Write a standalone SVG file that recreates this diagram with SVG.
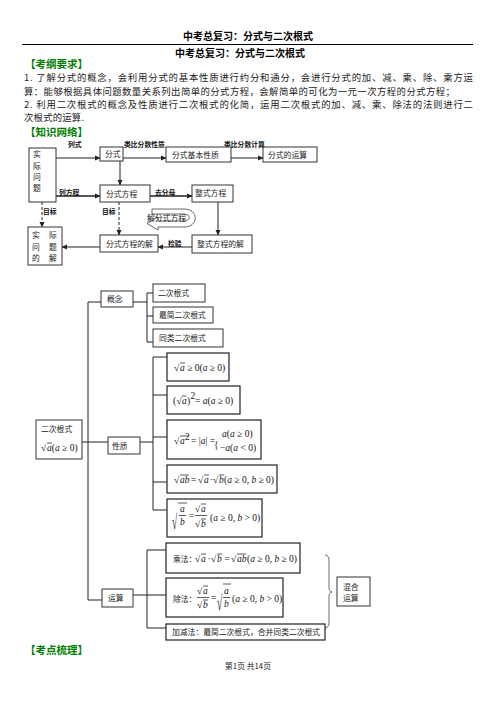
<svg xmlns="http://www.w3.org/2000/svg" width="496" height="702" viewBox="0 0 496 702">
<style>
.h{font-family:"Noto Sans CJK SC",sans-serif;font-weight:bold;font-size:10px;fill:#000}
.g{font-family:"Noto Sans CJK SC",sans-serif;font-weight:bold;font-size:10.5px;fill:#008000}
.p{font-family:"Noto Sans CJK SC",sans-serif;font-size:9.4px;fill:#222}
.t{font-family:"Noto Sans CJK SC",sans-serif;font-size:7.8px;fill:#222}
.l{font-family:"Noto Sans CJK SC",sans-serif;font-weight:bold;font-size:6.8px;fill:#111}
.m{font-family:"Liberation Serif",serif;font-size:9.5px;fill:#111}
.i{font-style:italic}
.bx{fill:#fff;stroke:#333;stroke-width:1}
.fb{fill:#fff;stroke:#222;stroke-width:1.2}
.ln{stroke:#222;stroke-width:1;fill:none}
.ar{stroke:#222;stroke-width:1;fill:none;marker-end:url(#ah)}
.tk{stroke:#222;stroke-width:1.5;fill:none;marker-end:url(#ah)}
.ds{stroke:#222;stroke-width:1;fill:none;stroke-dasharray:3,2;marker-end:url(#ah)}
.ov{stroke:#111;stroke-width:0.7}
</style>
<defs>
<marker id="ah" markerWidth="6" markerHeight="6" refX="5" refY="3" orient="auto" markerUnits="userSpaceOnUse"><path d="M0,0.5 L5.5,3 L0,5.5 z" fill="#222"/></marker>
</defs>
<rect width="496" height="702" fill="#fff"/>
<g id="header">
<text class="h" x="248" y="40" text-anchor="middle">中考总复习：分式与二次根式</text>
<line x1="22" y1="44.5" x2="473" y2="44.5" stroke="#000" stroke-width="1"/>
<text class="h" x="240" y="57" text-anchor="middle">中考总复习：分式与二次根式</text>
<text class="g" x="25" y="68">【考纲要求】</text>
<text class="p" x="24" y="81" textLength="449" lengthAdjust="spacing">1.  了解分式的概念，会利用分式的基本性质进行约分和通分，会进行分式的加、减、乘、除、乘方运</text>
<text class="p" x="24" y="94.5" textLength="431" lengthAdjust="spacing">算：能够根据具体问题数量关系列出简单的分式方程，会解简单的可化为一元一次方程的分式方程；</text>
<text class="p" x="24" y="108" textLength="449" lengthAdjust="spacing">2.  利用二次根式的概念及性质进行二次根式的化简，运用二次根式的加、减、乘、除法的法则进行二</text>
<text class="p" x="24" y="121" textLength="60" lengthAdjust="spacing">次根式的运算.</text>
<text class="g" x="25" y="135.5" font-size="10">【知识网络】</text>
</g>
<g id="connectors1">
<line class="ar" x1="56" y1="158" x2="100" y2="158"/>
<line class="ar" x1="123" y1="158" x2="166" y2="158"/>
<line class="ar" x1="231" y1="158" x2="263" y2="158"/>
<line class="ar" x1="120" y1="161" x2="120" y2="185"/>
<line class="tk" x1="56" y1="196" x2="100" y2="196"/>
<line class="tk" x1="150" y1="196" x2="192" y2="196"/>
<line class="ar" x1="218" y1="202" x2="218" y2="235"/>
<line class="ar" x1="192" y1="247" x2="158" y2="247"/>
<line class="ar" x1="100" y1="247" x2="62" y2="247"/>
<line class="ds" x1="42" y1="202" x2="42" y2="227"/>
<line class="ds" x1="119" y1="202" x2="119" y2="235"/>
<text class="l" x="68" y="146.5">列式</text>
<text class="l" x="124" y="146.5">类比分数性质</text>
<text class="l" x="224" y="146.5">类比分数计算</text>
<text class="l" x="59" y="195">列方程</text>
<text class="l" x="155" y="195">去分母</text>
<text class="l" x="43" y="214">目标</text>
<text class="l" x="102" y="214">目标</text>
<text class="l" x="168" y="246">检验</text>
</g>
<g id="n-sjwt"><rect class="bx" x="29" y="148" width="27" height="54"/>
<text class="t" x="33" y="157">实</text><text class="t" x="33" y="169">际</text><text class="t" x="33" y="180">问</text><text class="t" x="33" y="191">题</text></g>
<g id="n-fs"><rect class="bx" x="100" y="147" width="23" height="14"/><text class="t" x="105" y="157">分式</text></g>
<g id="n-fsjbxz"><rect class="bx" x="166" y="147" width="65" height="15"/><text class="t" x="172" y="158">分式基本性质</text></g>
<g id="n-fsdys"><rect class="bx" x="263" y="147" width="54" height="15"/><text class="t" x="268" y="158">分式的运算</text></g>
<g id="n-fsfc"><rect class="bx" x="100" y="185" width="50" height="17"/><text class="t" x="106" y="197">分式方程</text></g>
<g id="n-zsfc"><rect class="bx" x="192" y="185" width="41" height="17"/><text class="t" x="195" y="196">整式方程</text></g>
<g id="n-jfsfc">
<path d="M152,209 L184,209 C199,209 199,227 184,227 L158,227 L158,230 L147,223.5 L158,217 L158,221 L184,221 C191,221 191,214 184,214 L152,214 Z" fill="none" stroke="#444" stroke-width="0.8"/>
<text class="t" x="147" y="221">解分式方程</text></g>
<g id="n-sjwtdj"><rect class="bx" x="28" y="227" width="34" height="38"/>
<text class="t" x="32" y="238">实</text><text class="t" x="49" y="238">际</text>
<text class="t" x="32" y="250">问</text><text class="t" x="49" y="250">题</text>
<text class="t" x="32" y="261">的</text><text class="t" x="49" y="261">解</text></g>
<g id="n-fsfcdj"><rect class="bx" x="100" y="235" width="58" height="17"/><text class="t" x="106" y="247">分式方程的解</text></g>
<g id="n-zsfcdj"><rect class="bx" x="192" y="235" width="60" height="18"/><text class="t" x="197" y="247">整式方程的解</text></g>
<g id="connectors2">
<polyline class="ln" points="101,302 88,302 88,600 102,600"/>
<line class="ln" x1="82" y1="442" x2="108" y2="442"/>
<line class="ln" x1="133" y1="302" x2="147" y2="302"/>
<polyline class="ln" points="153,293 147,293 147,342 153,342"/>
<line class="ln" x1="147" y1="316" x2="153" y2="316"/>
<line class="ln" x1="140" y1="442" x2="153" y2="442"/>
<polyline class="ln" points="167,357 153,357 153,510 167,510"/>
<line class="ln" x1="153" y1="395" x2="167" y2="395"/>
<line class="ln" x1="153" y1="437" x2="167" y2="437"/>
<line class="ln" x1="153" y1="482" x2="167" y2="482"/>
<line class="ln" x1="133" y1="595" x2="147" y2="595"/>
<polyline class="ln" points="166,550 147,550 147,628 166,628"/>
<line class="ln" x1="147" y1="595" x2="166" y2="595"/>
<path d="M325,555 Q329,555 329,561 L329,587 Q329,592 332,592 Q329,592 329,597 L329,622 Q329,628 325,628" fill="none" stroke="#444" stroke-width="0.8"/>
</g>
<g id="n-ecgs"><rect class="bx" x="36" y="420" width="46" height="39"/>
<text class="t" x="41" y="432">二次根式</text>
<text class="m" x="41" y="451">√</text><line class="ov" x1="47" y1="443" x2="52" y2="443"/>
<text class="m" x="47" y="451"><tspan class="i">a</tspan>(<tspan class="i">a</tspan> ≥ 0)</text></g>
<g id="n-gn"><rect class="bx" x="101" y="291" width="32" height="16"/><text class="t" x="107" y="302">概念</text></g>
<g id="n-xz"><rect class="bx" x="108" y="437" width="32" height="17"/><text class="t" x="112" y="449">性质</text></g>
<g id="n-ys"><rect class="bx" x="102" y="589" width="31" height="18"/><text class="t" x="108" y="601">运算</text></g>
<g id="n-c1"><rect class="bx" x="153" y="284" width="52" height="18"/><text class="t" x="158" y="296">二次根式</text></g>
<g id="n-c2"><rect class="bx" x="153" y="307" width="60" height="16"/><text class="t" x="159" y="318">最简二次根式</text></g>
<g id="n-c3"><rect class="bx" x="153" y="329" width="70" height="18"/><text class="t" x="159" y="341">同类二次根式</text></g>
<g id="n-p1"><rect class="fb" x="167" y="353" width="62" height="28"/>
<text class="m" x="174" y="371">√</text><line class="ov" x1="180" y1="363" x2="185" y2="363"/>
<text class="m" x="180" y="371"><tspan class="i">a</tspan> ≥ 0(<tspan class="i">a</tspan> ≥ 0)</text></g>
<g id="n-p2"><rect class="fb" x="167" y="386" width="73" height="28"/>
<text class="m" x="173" y="404">(</text><text class="m" x="176.5" y="404">√</text><line class="ov" x1="182" y1="396" x2="186.5" y2="396"/>
<text class="m i" x="182" y="404">a</text><text class="m" x="187" y="404">)</text><text class="m" x="190.5" y="399" font-size="6">2</text>
<text class="m" x="195" y="404"> = <tspan class="i">a</tspan>(<tspan class="i">a</tspan> ≥ 0)</text></g>
<g id="n-p3"><rect class="fb" x="167" y="420" width="94" height="39"/>
<text class="m" x="174" y="444">√</text><line class="ov" x1="180" y1="436" x2="189" y2="436"/>
<text class="m i" x="180" y="444">a</text><text class="m" x="185" y="440" font-size="6">2</text>
<text class="m" x="191" y="444">= |<tspan class="i">a</tspan>| =</text>
<text class="m" x="214" y="448" font-size="20">{</text>
<text class="m" x="222" y="437"><tspan class="i">a</tspan>(<tspan class="i">a</tspan> ≥ 0)</text>
<text class="m" x="220" y="451">−<tspan class="i">a</tspan>(<tspan class="i">a</tspan> &lt; 0)</text></g>
<g id="n-p4"><rect class="fb" x="167" y="465" width="110" height="28"/>
<text class="m" x="174" y="483">√</text><line class="ov" x1="180" y1="475" x2="189" y2="475"/>
<text class="m i" x="180" y="483">ab</text>
<text class="m" x="191" y="483">=</text>
<text class="m" x="198" y="483">√</text><line class="ov" x1="204" y1="475" x2="209" y2="475"/>
<text class="m i" x="204" y="483">a</text>
<text class="m" x="210" y="483">·</text>
<text class="m" x="213" y="483">√</text><line class="ov" x1="219" y1="475" x2="224" y2="475"/>
<text class="m i" x="219" y="483">b</text>
<text class="m" x="224" y="483">(<tspan class="i">a</tspan> ≥ 0, <tspan class="i">b</tspan> ≥ 0)</text></g>
<g id="n-p5"><rect class="fb" x="167" y="499" width="95" height="38"/>
<text class="m" x="0" y="0" transform="translate(172,529) scale(1,2.2)">√</text><line class="ov" x1="178" y1="503" x2="187" y2="503"/>
<text class="m i" x="180" y="512">a</text><line class="ov" x1="179" y1="515.5" x2="186" y2="515.5"/><text class="m i" x="180" y="525">b</text>
<text class="m" x="189" y="519">=</text>
<text class="m" x="195" y="512">√</text><line class="ov" x1="201" y1="504" x2="206" y2="504"/><text class="m i" x="201" y="512">a</text>
<line class="ov" x1="195" y1="515.5" x2="207" y2="515.5"/>
<text class="m" x="195" y="527">√</text><line class="ov" x1="201" y1="519" x2="206" y2="519"/><text class="m i" x="201" y="527">b</text>
<text class="m" x="210" y="521">(<tspan class="i">a</tspan> ≥ 0, <tspan class="i">b</tspan> &gt; 0)</text></g>
<g id="n-o1"><rect class="fb" x="166" y="543" width="134" height="30"/>
<text class="t" x="173" y="562">乘法：</text>
<text class="m" x="195" y="562">√</text><line class="ov" x1="201" y1="554" x2="206" y2="554"/><text class="m i" x="201" y="562">a</text>
<text class="m" x="207.5" y="562">·</text>
<text class="m" x="211" y="562">√</text><line class="ov" x1="217" y1="554" x2="222" y2="554"/><text class="m i" x="217" y="562">b</text>
<text class="m" x="224.5" y="562">=</text>
<text class="m" x="231" y="562">√</text><line class="ov" x1="237" y1="554" x2="246" y2="554"/><text class="m i" x="237" y="562">ab</text>
<text class="m" x="247" y="562">(<tspan class="i">a</tspan> ≥ 0, <tspan class="i">b</tspan> ≥ 0)</text></g>
<g id="n-o2"><rect class="fb" x="166" y="578" width="117" height="39"/>
<text class="t" x="173" y="602">除法：</text>
<text class="m" x="197" y="594">√</text><line class="ov" x1="203" y1="586" x2="208" y2="586"/><text class="m i" x="203" y="594">a</text>
<line class="ov" x1="197" y1="597.5" x2="209" y2="597.5"/>
<text class="m" x="197" y="608">√</text><line class="ov" x1="203" y1="600" x2="208" y2="600"/><text class="m i" x="203" y="608">b</text>
<text class="m" x="211" y="601">=</text>
<text class="m" x="0" y="0" transform="translate(217,610) scale(1,2.2)">√</text><line class="ov" x1="223" y1="584" x2="231" y2="584"/>
<text class="m i" x="224" y="594">a</text><line class="ov" x1="223" y1="597.5" x2="230" y2="597.5"/><text class="m i" x="224" y="607">b</text>
<text class="m" x="232" y="602">(<tspan class="i">a</tspan> ≥ 0, <tspan class="i">b</tspan> &gt; 0)</text></g>
<g id="n-o3"><rect class="fb" x="166" y="624" width="159" height="16"/><text class="t" x="172" y="635">加减法：最简二次根式，合并同类二次根式</text></g>
<g id="n-hhys"><rect class="bx" x="337" y="577" width="33" height="29"/>
<text class="t" x="343" y="590">混合</text><text class="t" x="343" y="601">运算</text></g>
<g id="footer">
<text class="g" x="25" y="654">【考点梳理】</text>
<text class="t" x="248" y="669" text-anchor="middle" font-size="7" fill="#333">第1页  共14页</text>
</g>
</svg>
